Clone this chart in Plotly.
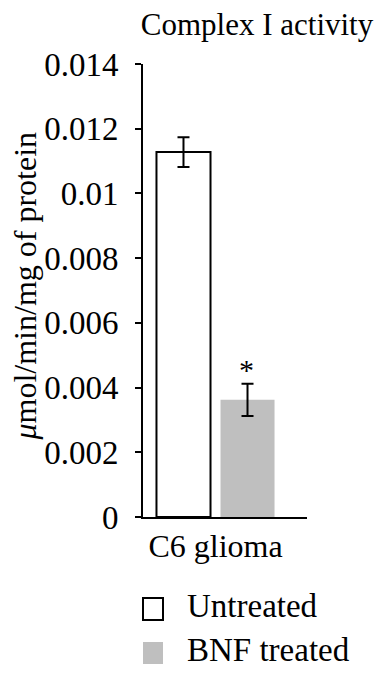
import plotly.graph_objects as go

# ---- data ----
categories = ["C6 glioma"]
series_names = ["Untreated", "BNF treated"]
untreated_values = [0.01128]
untreated_errors = [0.00046]
bnf_values = [0.00362]
bnf_errors = [0.00050]
significance = ["", "*"]
y_tick_values = [0, 0.002, 0.004, 0.006, 0.008, 0.01, 0.012, 0.014]
y_tick_labels = ["0", "0.002", "0.004", "0.006", "0.008", "0.01", "0.012", "0.014"]
y_title = "<i>μ</i>mol/min/mg of protein"
chart_title = "Complex I activity"

FONT = "Liberation Serif"
FS = 32
GRAY = "#bfbfbf"

# page body has an 8px margin: figure sized to fill the rest of the window
W, H_FIG = 375, 668
PW, PH = 164.0, 453.0   # plot area size in px

fig = go.Figure()
fig.add_trace(go.Bar(
    x=categories, y=untreated_values, name=series_names[0],
    marker=dict(color="white", line=dict(color="black", width=2)),
    error_y=dict(type="data", array=untreated_errors, color="black", thickness=2, width=6),
    showlegend=False,
))
fig.add_trace(go.Bar(
    x=categories, y=bnf_values, name=series_names[1],
    marker=dict(color=GRAY, line=dict(width=0)),
    error_y=dict(type="data", array=bnf_errors, color="black", thickness=2, width=6),
    showlegend=False,
))

# significance star above BNF error bar
fig.add_annotation(
    x=categories[0], y=bnf_values[0] + bnf_errors[0], xref="x", yref="y",
    text=significance[1], showarrow=False, xshift=31, yshift=-4,
    yanchor="bottom", font=dict(family=FONT, size=30, color="black"),
)

# small tick at left category boundary
fig.add_shape(type="line", xref="x", yref="y", x0=-0.5, x1=-0.5,
              ysizemode="pixel", yanchor=0, y0=0, y1=-8,
              line=dict(color="black", width=2))

# y-axis title as rotated annotation
fig.add_annotation(xref="paper", yref="paper", x=-119 / PW, y=0.5 + 4 / PH,
                   text=y_title, textangle=-90, showarrow=False,
                   xanchor="center", yanchor="middle",
                   font=dict(family=FONT, size=32, color="black"))

# manual legend (positions relative to plot area)
legend_items = [
    (series_names[0], "white", 598, 620),
    (series_names[1], GRAY, 642, 664),
]
for name, col, top, bot in legend_items:
    y0 = (517 - bot) / PH
    y1 = (517 - top) / PH
    fig.add_shape(type="rect", xref="paper", yref="paper",
                  x0=0.0, x1=20 / PW, y0=y0, y1=y1,
                  fillcolor=col,
                  line=dict(color="black" if col == "white" else col, width=2 if col == "white" else 0))
    fig.add_annotation(xref="paper", yref="paper", x=42 / PW, y=(y0 + y1) / 2 + 3 / PH,
                       text=name, showarrow=False, xanchor="left", yanchor="middle",
                       font=dict(family=FONT, size=33, color="black"))

fig.update_layout(
    width=W, height=H_FIG,
    margin=dict(l=135, r=76, t=56, b=159, autoexpand=False),
    paper_bgcolor="white", plot_bgcolor="white",
    barmode="group", bargap=0.117, bargroupgap=0.156,
    font=dict(family=FONT, size=FS, color="black"),
    showlegend=False,
    title=dict(text=chart_title, x=249 / W, xanchor="center",
               y=1 - 5 / H_FIG, yanchor="top", font=dict(family=FONT, size=31)),
)
fig.update_xaxes(
    type="category", range=[-0.5, 0.631],
    showline=True, linecolor="black", linewidth=2,
    ticks="", showgrid=False, zeroline=False, automargin=False,
    tickfont=dict(family=FONT, size=FS),
)
fig.update_yaxes(
    range=[0, 0.014], tickvals=y_tick_values, ticktext=y_tick_labels,
    showline=True, linecolor="black", linewidth=2,
    ticks="outside", ticklen=6, tickwidth=2, tickcolor="black",
    ticklabelstandoff=10, automargin=False,
    showgrid=False, zeroline=False,
    tickfont=dict(family=FONT, size=33),
)

fig.write_html("out.html")
